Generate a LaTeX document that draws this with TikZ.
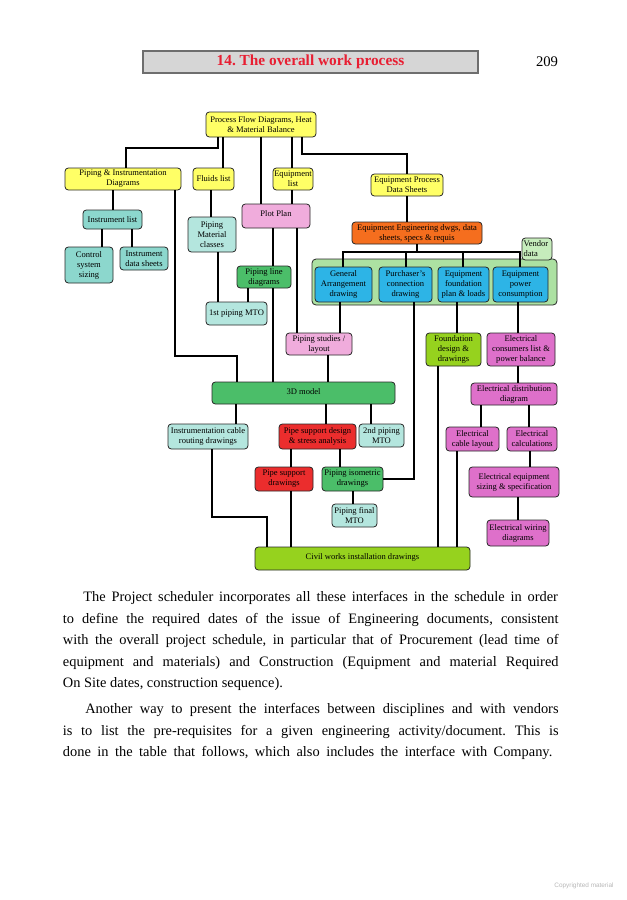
\documentclass[tikz,border=0pt]{standalone}
\usepackage{fontspec}
\setmainfont{Liberation Serif}
\setsansfont{Liberation Sans}
\frenchspacing
\definecolor{cyel}{RGB}{255,255,102}
\definecolor{cteal}{RGB}{140,215,205}
\definecolor{cteal2}{RGB}{180,230,222}
\definecolor{cpink}{RGB}{240,172,220}
\definecolor{corange}{RGB}{245,110,30}
\definecolor{cgreen}{RGB}{75,190,105}
\definecolor{clgreen}{RGB}{172,225,162}
\definecolor{cblue}{RGB}{45,180,230}
\definecolor{clime}{RGB}{150,210,30}
\definecolor{cmag}{RGB}{222,112,202}
\definecolor{cred}{RGB}{235,45,45}
\definecolor{cvendor}{RGB}{198,236,188}
\definecolor{cborder}{RGB}{40,40,40}
\definecolor{hdrfill}{RGB}{214,214,214}
\definecolor{hdrline}{RGB}{110,110,110}
\definecolor{titlered}{RGB}{232,30,50}
\tikzset{
  box/.style={draw=cborder, line width=0.6pt, rounded corners=2.5pt, align=center,
    inner sep=0pt, font=\fontsize{6.4}{7.5}\selectfont},
  conn/.style={line width=1.6pt, draw=black},
  bodyline/.style={anchor=base west, inner sep=0pt, font=\fontsize{10.8}{12}\selectfont}
}
% \bx{name}{x1}{y1}{x2}{y2}{fill}{text}
\newcommand\bx[7]{\node[box, fill=#6, minimum width={(#4-#2)*0.75pt}, minimum height={(#5-#3)*0.75pt}] (#1) at ({(#2+#4)/2},{(#3+#5)/2}) {#7};}
\begin{document}
\frenchspacing
\begin{tikzpicture}[x=0.75pt,y=-0.75pt]
\useasboundingbox (0,0) rectangle (627,900);
\fill[white] (0,0) rectangle (627,900);

% header
\node[draw=hdrline, fill=hdrfill, line width=1pt, minimum width={335*0.75pt}, minimum height={22*0.75pt},
  inner sep=0pt, text=titlered, font=\fontsize{11.5}{13}\selectfont\bfseries] (hdr) at (310.5,62) {14. The overall work process};
\node[inner sep=0pt, font=\fontsize{11}{13}\selectfont] (pg) at (547,62) {209};

% container
\node[draw=cborder, fill=clgreen, line width=0.6pt, rounded corners=3pt, inner sep=0pt,
  minimum width={245*0.75pt}, minimum height={46*0.75pt}] (cont) at (434.5,282) {};
\bx{vendor}{522}{238}{552}{260}{cvendor}{\parbox{20pt}{\raggedright Vendor\\data}}

% boxes
\bx{pfd}{206}{112}{316}{137}{cyel}{Process Flow Diagrams, Heat\\\& Material Balance}
\bx{pid}{65}{168}{181}{190}{cyel}{Piping \& Instrumentation\\Diagrams}
\bx{fluids}{193}{168}{234}{190}{cyel}{Fluids list}
\bx{eqlist}{273}{168}{313}{190}{cyel}{Equipment\\list}
\bx{epds}{371}{174}{443}{196}{cyel}{Equipment Process\\Data Sheets}
\bx{instlist}{83}{210}{142}{229}{cteal}{Instrument list}
\bx{control}{65}{247}{113}{283}{cteal}{Control\\system\\sizing}
\bx{instdata}{120}{247}{168}{270}{cteal}{Instrument\\data sheets}
\bx{pmc}{188}{217}{236}{252}{cteal2}{Piping\\Material\\classes}
\bx{plot}{242}{204}{310}{228}{cpink}{\raisebox{3.5pt}{Plot Plan}}
\bx{ee}{352}{222}{482}{244}{corange}{Equipment Engineering dwgs, data\\sheets, specs \& requis}
\bx{ga}{315}{267}{372}{302}{cblue}{General\\Arrangement\\drawing}
\bx{purch}{379}{267}{432}{302}{cblue}{Purchaser's\\connection\\drawing}
\bx{fplan}{438}{267}{489}{302}{cblue}{Equipment\\foundation\\plan \& loads}
\bx{power}{493}{267}{548}{302}{cblue}{Equipment\\power\\consumption}
\bx{pld}{237}{266}{291}{288}{cgreen}{Piping line\\diagrams}
\bx{mtoa}{206}{302}{267}{325}{cteal2}{1st piping MTO}
\bx{pstud}{286}{333}{352}{355}{cpink}{Piping studies /\\layout}
\bx{fdes}{426}{333}{481}{366}{clime}{Foundation\\design \&\\drawings}
\bx{econs}{487}{333}{555}{366}{cmag}{Electrical\\consumers list \&\\power balance}
\bx{mthree}{212}{382}{395}{404}{cgreen}{\raisebox{2pt}{3D model}}
\bx{edist}{471}{383}{557}{405}{cmag}{Electrical distribution\\diagram}
\bx{icable}{168}{424}{248}{449}{cteal2}{Instrumentation cable\\routing drawings}
\bx{psd}{279}{424}{356}{449}{cred}{Pipe support design\\\& stress analysis}
\bx{mtob}{359}{424}{404}{447}{cteal2}{2nd piping\\MTO}
\bx{ecable}{446}{427}{499}{451}{cmag}{Electrical\\cable layout}
\bx{ecalc}{507}{427}{557}{451}{cmag}{Electrical\\calculations}
\bx{psdraw}{255}{467}{313}{491}{cred}{Pipe support\\drawings}
\bx{iso}{322}{467}{383}{491}{cgreen}{Piping isometric\\drawings}
\bx{esize}{469}{467}{559}{497}{cmag}{Electrical equipment\\sizing \& specification}
\bx{mtoc}{332}{504}{377}{527}{cteal2}{Piping final\\MTO}
\bx{ewire}{487}{520}{549}{546}{cmag}{Electrical wiring\\diagrams}
\bx{civil}{255}{547}{470}{570}{clime}{\raisebox{3pt}{Civil works installation drawings}}

% connectors
\draw[conn] (pfd.south -| 218,0) |- (126,148) -- (pid.north -| 126,0);
\draw[conn] (pfd.south -| 223,0) -- (fluids.north -| 223,0);
\draw[conn] (pfd.south -| 261,0) -- (plot.north -| 261,0);
\draw[conn] (pfd.south -| 292,0) -- (eqlist.north -| 292,0);
\draw[conn] (eqlist.south -| 292,0) -- (plot.north -| 292,0);
\draw[conn] (pfd.south -| 302,0) |- (407,154) -- (epds.north -| 407,0);
\draw[conn] (epds.south -| 407,0) -- (ee.north -| 407,0);
\draw[conn] (ee.south -| 417,0) |- (343,252) -- (ga.north -| 343,0);
\draw[conn] (ee.south -| 417,0) |- (406,252) -- (purch.north -| 406,0);
\draw[conn] (ee.south -| 417,0) |- (463,252) -- (fplan.north -| 463,0);
\draw[conn] (ee.south -| 417,0) |- (520,252) -- (power.north -| 520,0);
\draw[conn] (pid.south -| 113,0) -- (instlist.north -| 113,0);
\draw[conn] (instlist.south -| 102,0) -- (control.north -| 102,0);
\draw[conn] (instlist.south -| 132,0) -- (instdata.north -| 132,0);
\draw[conn] (pid.south -| 175,0) |- (237,356) -- (mthree.north -| 237,0);
\draw[conn] (fluids.south -| 211,0) -- (pmc.north -| 211,0);
\draw[conn] (pmc.south -| 218,0) -- (mtoa.north -| 218,0);
\draw[conn] (plot.south -| 273,0) -- (pld.north -| 273,0);
\draw[conn] (pld.south -| 273,0) -- (mthree.north -| 273,0);
\draw[conn] (pld.south -| 248,0) -- (mtoa.north -| 248,0);
\draw[conn] (plot.south -| 297,0) -- (pstud.north -| 297,0);
\draw[conn] (ga.south -| 340,0) -- (pstud.north -| 340,0);
\draw[conn] (pstud.south -| 328,0) -- (mthree.north -| 328,0);
\draw[conn] (purch.south -| 414,0) |- (iso.east);
\draw[conn] (fplan.south -| 457,0) -- (fdes.north -| 457,0);
\draw[conn] (power.south -| 518,0) -- (econs.north -| 518,0);
\draw[conn] (fdes.south -| 438,0) -- (civil.north -| 438,0);
\draw[conn] (econs.south -| 518,0) -- (edist.north -| 518,0);
\draw[conn] (edist.south -| 481,0) -- (ecable.north -| 481,0);
\draw[conn] (edist.south -| 529,0) -- (ecalc.north -| 529,0);
\draw[conn] (ecable.south -| 457,0) -- (civil.north -| 457,0);
\draw[conn] (ecalc.south -| 530,0) -- (esize.north -| 530,0);
\draw[conn] (esize.south -| 518,0) -- (ewire.north -| 518,0);
\draw[conn] (mthree.south -| 236,0) -- (icable.north -| 236,0);
\draw[conn] (mthree.south -| 326,0) -- (psd.north -| 326,0);
\draw[conn] (mthree.south -| 371,0) -- (mtob.north -| 371,0);
\draw[conn] (psd.south -| 291,0) -- (psdraw.north -| 291,0);
\draw[conn] (psd.south -| 340,0) -- (iso.north -| 340,0);
\draw[conn] (iso.south -| 353,0) -- (mtoc.north -| 353,0);
\draw[conn] (psdraw.south -| 291,0) -- (civil.north -| 291,0);
\draw[conn] (icable.south -| 212,0) |- (267,517) -- (civil.north -| 267,0);

% body text
\node[bodyline] (t1) at (83,601.5) {\makebox[356pt][s]{The Project scheduler incorporates all these interfaces in the schedule in order}};
\node[bodyline] (t2) at (62.7,623) {\makebox[371.7pt][s]{to define the required dates of the issue of Engineering documents, consistent}};
\node[bodyline] (t3) at (62.7,644.5) {\makebox[371.7pt][s]{with the overall project schedule, in particular that of Procurement (lead time of}};
\node[bodyline] (t4) at (62.7,666) {\makebox[371.7pt][s]{equipment and materials) and Construction (Equipment and material Required}};
\node[bodyline] (t5) at (62.7,687) {On Site dates, construction sequence).};
\node[bodyline] (t6) at (85,713.5) {\makebox[355pt][s]{Another way to present the interfaces between disciplines and with vendors}};
\node[bodyline] (t7) at (62.7,735) {\makebox[371.7pt][s]{is to list the pre-requisites for a given engineering activity/document. This is}};
\node[bodyline] (t8) at (62.7,756.5) {\makebox[367pt][s]{done in the table that follows, which also includes the interface with Company.}};

\node[inner sep=0pt, text=black!28, font=\sffamily\fontsize{4.8}{6}\selectfont] (copy) at (584,886) {Copyrighted material};
\end{tikzpicture}
\end{document}
